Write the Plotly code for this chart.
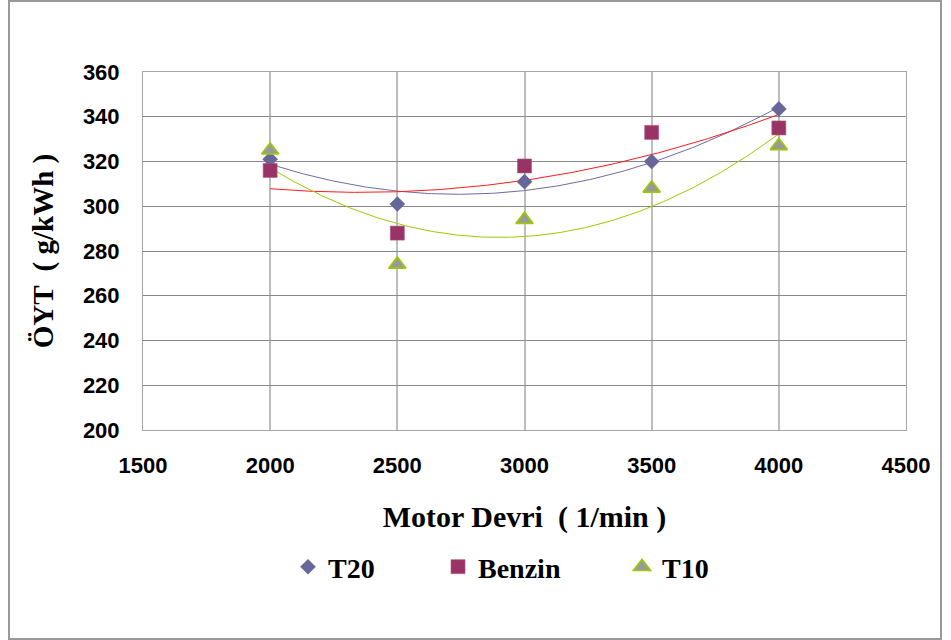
import numpy as np
import plotly.graph_objects as go

# Engine speed (1/min) and specific fuel consumption (g/kWh)
rpm = [2000, 2500, 3000, 3500, 4000]
t20 = [321, 301, 311, 320, 343.5]
benzin = [316, 288, 318, 333, 335]
t10 = [325, 274, 294, 308, 327]

x_ticks = [1500, 2000, 2500, 3000, 3500, 4000, 4500]
y_ticks = [200, 220, 240, 260, 280, 300, 320, 340, 360]

W, H = 951, 640
L, R, T, B = 143, 45, 72, 210
pw, ph = W - L - R, H - T - B

series = [
    dict(name="T20", y=t20, symbol="diamond", size=12, fill="#666699",
         edge="#666699", ew=0, trend="#6D6DA6", legend="legend"),
    dict(name="Benzin", y=benzin, symbol="square", size=14, fill="#993366",
         edge="#B0557F", ew=0.6, trend="#FF1A1A", legend="legend2"),
    dict(name="T10", y=t10, symbol="triangle-up", size=15, fill="#999999",
         edge="#99CC00", ew=1.6, trend="#99CC00", legend="legend3"),
]

fig = go.Figure()

# Second-order polynomial trendlines over the measured range
xs = np.linspace(rpm[0], rpm[-1], 200)
for s in series:
    coef = np.polyfit(rpm, s["y"], 2)
    fig.add_trace(go.Scatter(
        x=xs, y=np.polyval(coef, xs), mode="lines",
        line=dict(color=s["trend"], width=1),
        showlegend=False, hoverinfo="skip"))

for s in series:
    fig.add_trace(go.Scatter(
        x=rpm, y=s["y"], mode="markers", name=s["name"],
        legend=s["legend"],
        marker=dict(symbol=s["symbol"], size=s["size"], color=s["fill"],
                    line=dict(color=s["edge"], width=s["ew"]))))

def px_x(p):
    return (p - L) / pw

def px_y(p):
    return (H - B - p) / ph

legend_font = dict(family="Liberation Serif, Times New Roman", size=28,
                   color="black", weight="bold")
legend_pos = {"legend": 288, "legend2": 438, "legend3": 622}
layout_legends = {}
for key, xp in legend_pos.items():
    layout_legends[key] = dict(
        x=px_x(xp), y=px_y(567), xanchor="left", yanchor="middle",
        orientation="h", font=legend_font, bgcolor="rgba(0,0,0,0)",
        borderwidth=0, itemwidth=30)

tick_font = dict(family="Liberation Sans, Arial", size=22, color="black",
                 weight="bold")
x_title_font = dict(family="Liberation Serif, Times New Roman", size=30,
                    color="black", weight="bold")
y_title_font = dict(family="Liberation Serif, Times New Roman", size=29,
                    color="black", weight="bold")

fig.update_layout(
    width=W, height=H,
    margin=dict(l=L, r=R, t=T, b=B),
    paper_bgcolor="white", plot_bgcolor="white",
    showlegend=True,
    xaxis=dict(
        range=[1500, 4500], tickvals=x_ticks,
        ticktext=[str(v) for v in x_ticks],
        showgrid=True, gridcolor="#BDBDBD", gridwidth=2,
        showline=True, linecolor="#A6A6A6", linewidth=1, mirror=True,
        zeroline=False, ticks="", tickfont=tick_font,
        ticklabelstandoff=16,
        title=dict(text="Motor Devri  ( 1/min )", font=x_title_font,
                   standoff=28)),
    yaxis=dict(
        range=[200, 360], tickvals=y_ticks,
        ticktext=[str(v) for v in y_ticks],
        showgrid=True, gridcolor="#888888", gridwidth=1,
        showline=True, linecolor="#A6A6A6", linewidth=1, mirror=True,
        zeroline=False, ticks="", tickfont=tick_font,
        ticklabelstandoff=18,
        title=dict(text="ÖYT  ( g/kWh )", font=y_title_font, standoff=20)),
    shapes=[dict(type="rect", xref="paper", yref="paper",
                 x0=px_x(9), x1=px_x(941), y0=px_y(639), y1=px_y(1),
                 line=dict(color="#999999", width=2), layer="below")],
    **layout_legends,
)

fig.write_html("out.html")
